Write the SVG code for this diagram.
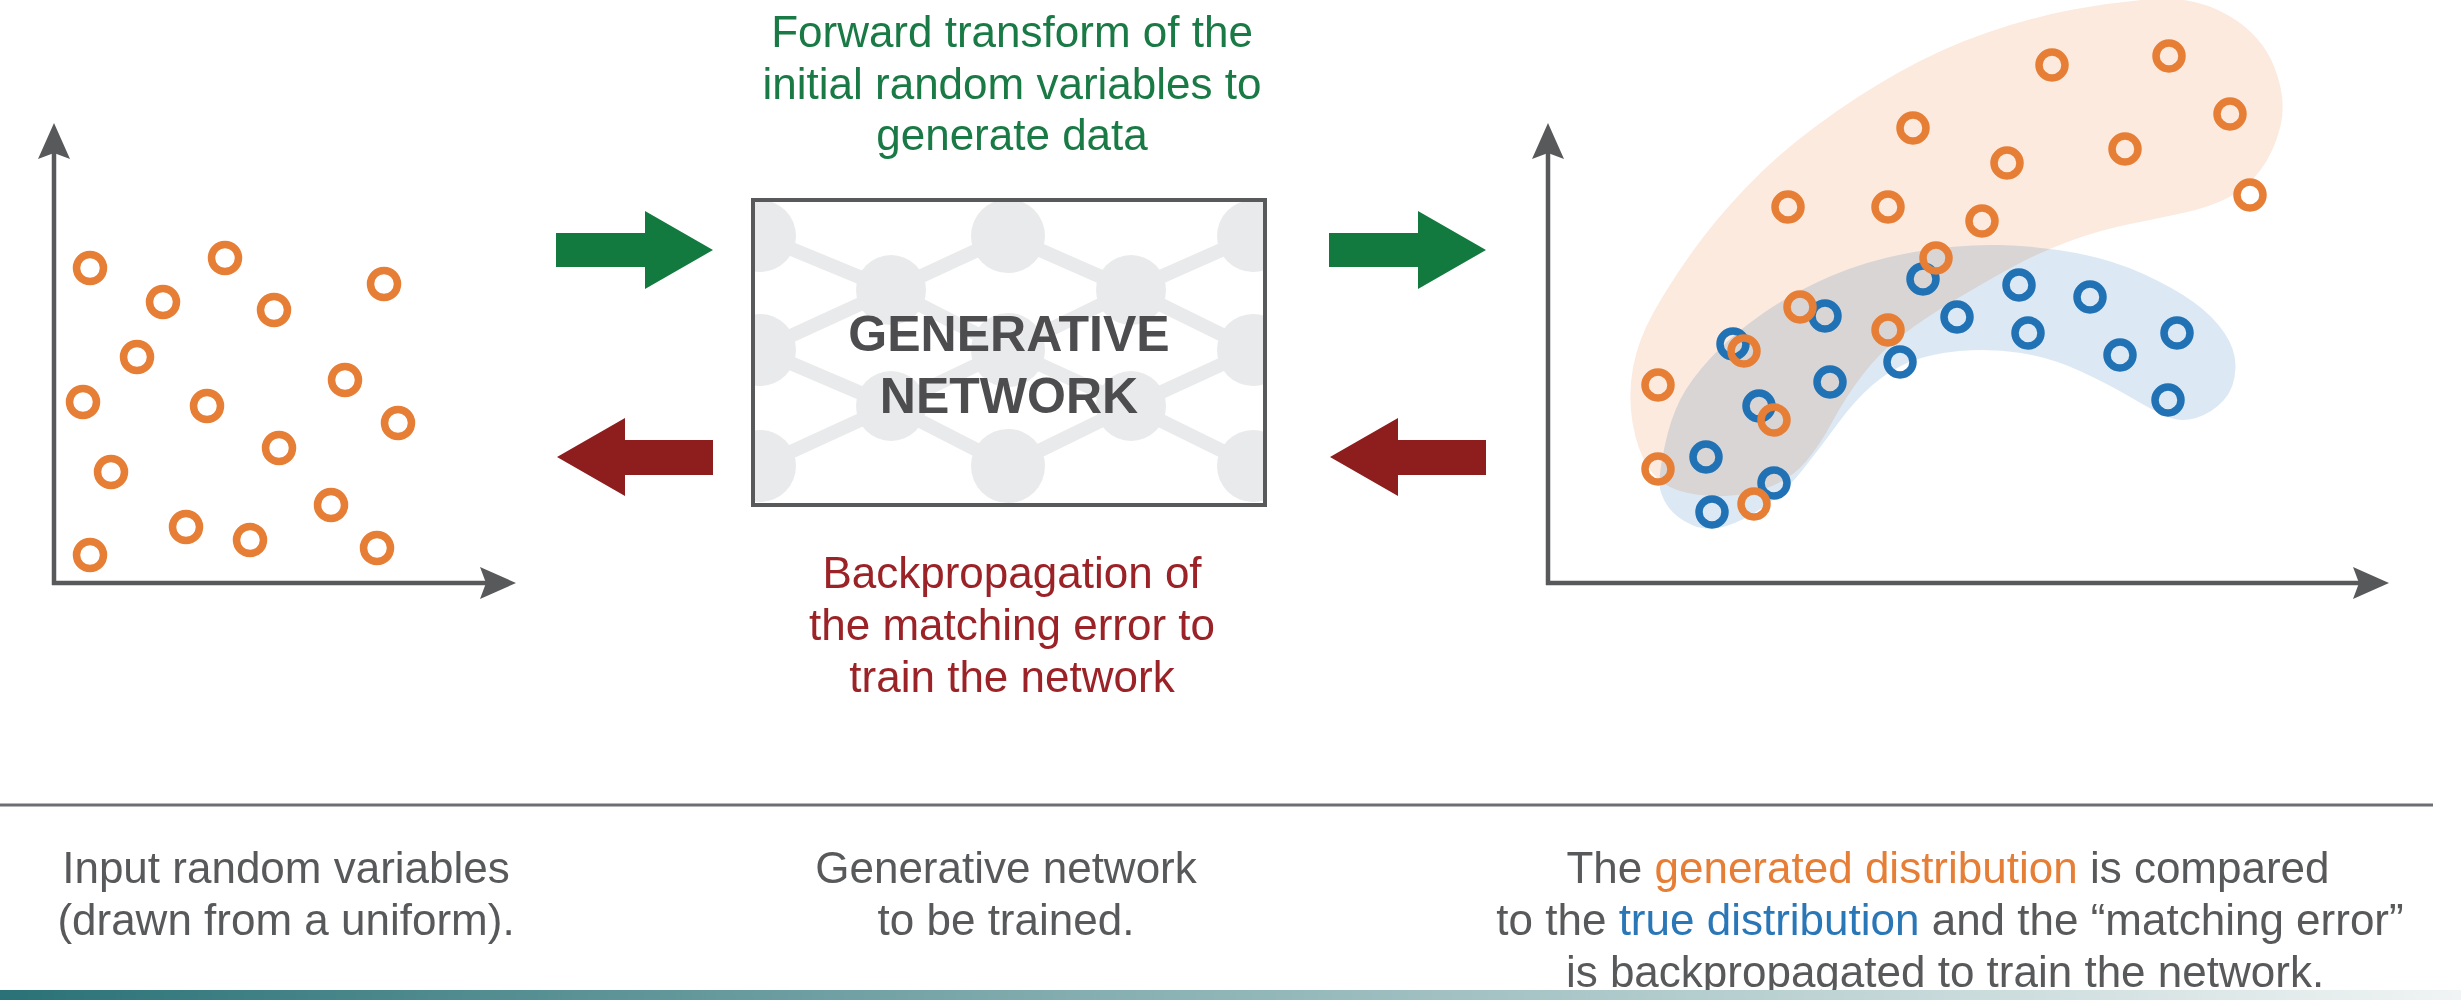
<svg xmlns="http://www.w3.org/2000/svg" width="2461" height="1000" viewBox="0 0 2461 1000">
<defs>
<style>
.txt{font-family:"Liberation Sans",Arial,Helvetica,sans-serif;font-size:44px;text-anchor:middle}
.green{fill:#1A7A45}
.red{fill:#9B2226}
.gray{fill:#58595B}
.title{font-family:"Liberation Sans",Arial,Helvetica,sans-serif;font-size:50px;font-weight:bold;fill:#4D4D4F;text-anchor:middle}
.axis{stroke:#58595B;stroke-width:4.5;fill:none}
.or{fill:none;stroke:#E67E35;stroke-width:7.5}
.bl{fill:none;stroke:#2072B5;stroke-width:7.5}
.nn{fill:#E9EAEB}
.ne{stroke:#E9EAEB;stroke-width:14;fill:none}
</style>
<marker id="axhead" viewBox="-30 -18 42 36" markerWidth="42" markerHeight="36" refX="0" refY="0" orient="auto" markerUnits="userSpaceOnUse">
<path d="M10,0 L-26,-16 L-20,0 L-26,16 Z" fill="#58595B"/>
</marker>
<clipPath id="boxclip"><rect x="753" y="200" width="512" height="305"/></clipPath>
<linearGradient id="bar" x1="0" y1="0" x2="1" y2="0">
<stop offset="0" stop-color="#2A7277"/>
<stop offset="0.45" stop-color="#86AFB1"/>
<stop offset="1" stop-color="#F0F4F4"/>
</linearGradient>
</defs>
<rect width="2461" height="1000" fill="#FFFFFF"/>

<g id="input-plot">
<line class="axis" x1="54" y1="585" x2="54" y2="133" marker-end="url(#axhead)"/>
<line class="axis" x1="52" y1="583" x2="506" y2="583" marker-end="url(#axhead)"/>
<circle class="or" cx="90" cy="268" r="13.5"/>
<circle class="or" cx="225" cy="258" r="13.5"/>
<circle class="or" cx="163" cy="302" r="13.5"/>
<circle class="or" cx="274" cy="310" r="13.5"/>
<circle class="or" cx="384" cy="284" r="13.5"/>
<circle class="or" cx="137" cy="357" r="13.5"/>
<circle class="or" cx="83" cy="402" r="13.5"/>
<circle class="or" cx="207" cy="406" r="13.5"/>
<circle class="or" cx="345" cy="380" r="13.5"/>
<circle class="or" cx="398" cy="423" r="13.5"/>
<circle class="or" cx="279" cy="448" r="13.5"/>
<circle class="or" cx="111" cy="472" r="13.5"/>
<circle class="or" cx="186" cy="527" r="13.5"/>
<circle class="or" cx="331" cy="505" r="13.5"/>
<circle class="or" cx="250" cy="540" r="13.5"/>
<circle class="or" cx="90" cy="555" r="13.5"/>
<circle class="or" cx="377" cy="548" r="13.5"/>
</g>

<g id="generative-network">
<rect x="753" y="200" width="512" height="305" fill="#FFFFFF"/>
<g clip-path="url(#boxclip)">
<path class="ne" d="M760,236 L891,290 L1008,236 L1131,290 L1253,236 M760,350 L891,290 L1008,350 L1131,290 L1253,350 M760,350 L891,406 L1008,350 L1131,406 L1253,350 M760,466 L891,406 L1008,466 L1131,406 L1253,466"/>
<circle class="nn" cx="760" cy="236" r="36"/>
<circle class="nn" cx="1008" cy="236" r="37"/>
<circle class="nn" cx="1253" cy="236" r="36"/>
<circle class="nn" cx="891" cy="290" r="35"/>
<circle class="nn" cx="1131" cy="290" r="35"/>
<circle class="nn" cx="760" cy="350" r="36"/>
<circle class="nn" cx="1008" cy="350" r="37"/>
<circle class="nn" cx="1253" cy="350" r="36"/>
<circle class="nn" cx="891" cy="406" r="35"/>
<circle class="nn" cx="1131" cy="406" r="35"/>
<circle class="nn" cx="760" cy="466" r="36"/>
<circle class="nn" cx="1008" cy="466" r="37"/>
<circle class="nn" cx="1253" cy="466" r="36"/>
</g>
<rect x="753" y="200" width="512" height="305" fill="none" stroke="#58595B" stroke-width="4"/>
<text class="title" x="1009" y="351">GENERATIVE</text>
<text class="title" x="1009" y="413">NETWORK</text>
</g>

<g id="output-plot">
<line class="axis" x1="1548" y1="585" x2="1548" y2="133" marker-end="url(#axhead)"/>
<line class="axis" x1="1546" y1="583" x2="2379" y2="583" marker-end="url(#axhead)"/>
<path id="true-region" fill="#DCE9F4" d="M1659.5,484.5 Q1659,474 1664.5,447 Q1670,420 1680,400 Q1690,380 1711.5,357 Q1733,334 1763.5,313 Q1794,292 1831,276 Q1868,260 1914,252 Q1960,244 1999.5,245 Q2039,246 2076,253 Q2113,260 2143.5,274 Q2174,288 2193.5,302 Q2213,316 2224.5,333 Q2236,350 2235.5,367.5 Q2235,388 2223.5,400.5 Q2212,413 2196,418 Q2180,423 2166,416 Q2152,410 2131,397.5 Q2110,385 2081,371.5 Q2052,358 2021,353 Q1990,348 1959.5,351 Q1929,354 1909.5,362 Q1890,370 1872.5,385 Q1855,400 1837.5,424 Q1820,448 1802.5,470 Q1785,492 1765,506 Q1745,520 1726.5,526 Q1708,532 1692,525 Q1676,518 1668,506.5 Q1660,495 1659.5,484.5 Z"/>
<path id="generated-region" fill="#FCEADF" style="mix-blend-mode:multiply" d="M2073,9.5 Q2113,2 2154,-1 Q2195,-4 2228.5,15.5 Q2262,35 2274.5,67.5 Q2287,100 2280.5,126 Q2274,152 2260.5,170 Q2247,188 2228.5,197.5 Q2210,207 2185,212.5 Q2160,218 2130,224 Q2100,230 2070,241 Q2040,252 2012.5,267 Q1985,282 1955,300 Q1925,318 1902.5,335 Q1880,352 1862.5,375 Q1845,398 1832.5,421.5 Q1820,445 1806,461.5 Q1792,478 1771,486.5 Q1750,495 1725,496 Q1700,497 1680,491 Q1660,485 1648.5,467.5 Q1637,450 1632.5,422.5 Q1628,395 1633,367.5 Q1638,340 1654,311.5 Q1670,283 1692.5,251.5 Q1715,220 1745.5,188 Q1776,156 1815.5,126.5 Q1855,97 1898.5,72.5 Q1942,48 1987.5,32.5 Q2033,17 2073,9.5 Z"/>
<circle class="bl" cx="1923" cy="279" r="13"/>
<circle class="bl" cx="1825" cy="316" r="13"/>
<circle class="bl" cx="1733" cy="344" r="13"/>
<circle class="bl" cx="1830" cy="382" r="13"/>
<circle class="bl" cx="1957" cy="317" r="13"/>
<circle class="bl" cx="2019" cy="285" r="13"/>
<circle class="bl" cx="2090" cy="297" r="13"/>
<circle class="bl" cx="2028" cy="333" r="13"/>
<circle class="bl" cx="2177" cy="333" r="13"/>
<circle class="bl" cx="2120" cy="355" r="13"/>
<circle class="bl" cx="1900" cy="362" r="13"/>
<circle class="bl" cx="2168" cy="400" r="13"/>
<circle class="bl" cx="1759" cy="406" r="13"/>
<circle class="bl" cx="1706" cy="457" r="13"/>
<circle class="bl" cx="1774" cy="483" r="13"/>
<circle class="bl" cx="1712" cy="512" r="13"/>
<circle class="or" cx="2052" cy="65" r="13"/>
<circle class="or" cx="2169" cy="56" r="13"/>
<circle class="or" cx="1913" cy="128" r="13"/>
<circle class="or" cx="2230" cy="114" r="13"/>
<circle class="or" cx="2125" cy="149" r="13"/>
<circle class="or" cx="2007" cy="163" r="13"/>
<circle class="or" cx="2250" cy="195" r="13"/>
<circle class="or" cx="1788" cy="207" r="13"/>
<circle class="or" cx="1888" cy="207" r="13"/>
<circle class="or" cx="1982" cy="221" r="13"/>
<circle class="or" cx="1936" cy="258" r="13"/>
<circle class="or" cx="1800" cy="307" r="13"/>
<circle class="or" cx="1888" cy="330" r="13"/>
<circle class="or" cx="1744" cy="351" r="13"/>
<circle class="or" cx="1658" cy="385" r="13"/>
<circle class="or" cx="1774" cy="420" r="13"/>
<circle class="or" cx="1658" cy="469" r="13"/>
<circle class="or" cx="1754" cy="504" r="13"/>
</g>

<g id="connectors">
<path fill="#137A3F" d="M556,233 H645 V211 L713,250 L645,289 V267 H556 Z"/>
<path fill="#137A3F" d="M1329,233 H1418 V211 L1486,250 L1418,289 V267 H1329 Z"/>
<path fill="#8E1D1D" d="M557,457 L625,418 V440 H713 V475 H625 V496 Z"/>
<path fill="#8E1D1D" d="M1330,457 L1398,418 V440 H1486 V475 H1398 V496 Z"/>
</g>

<g id="forward-label">
<text class="txt green" x="1012" y="47">Forward transform of the</text>
<text class="txt green" x="1012" y="99">initial random variables to</text>
<text class="txt green" x="1012" y="150">generate data</text>
</g>
<g id="backprop-label">
<text class="txt red" x="1012" y="588">Backpropagation of</text>
<text class="txt red" x="1012" y="640">the matching error to</text>
<text class="txt red" x="1012" y="692">train the network</text>
</g>

<line x1="0" y1="805" x2="2433" y2="805" stroke="#6D6E71" stroke-width="3"/>

<g id="captions">
<text class="txt gray" x="286" y="883">Input random variables</text>
<text class="txt gray" x="286" y="935">(drawn from a uniform).</text>
<text class="txt gray" x="1006" y="883">Generative network</text>
<text class="txt gray" x="1006" y="935">to be trained.</text>
<text class="txt gray" x="1948" y="883">The <tspan fill="#E67E35">generated distribution</tspan> is compared</text>
<text class="txt gray" x="1950" y="935">to the <tspan fill="#2A77B8">true distribution</tspan> and the “matching error”</text>
<text class="txt gray" x="1945" y="987">is backpropagated to train the network.</text>
</g>

<rect x="0" y="990" width="2461" height="10" fill="url(#bar)"/>
</svg>
